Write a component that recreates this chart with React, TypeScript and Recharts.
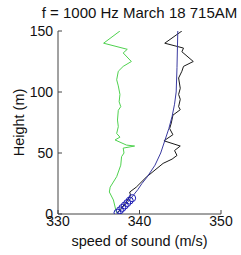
import { ScatterChart, Scatter, XAxis, YAxis } from 'recharts'

// heights (m) and speeds (m/s)
const greenHeights = [1, 3, 11.5, 18, 22, 30.6, 40, 47, 50, 54, 55.7, 56.5, 60.7, 63, 66, 71.6, 77, 85, 88, 92, 98, 105, 110, 117, 121, 125, 132, 135, 140, 150]
const greenSpeeds = [337.2, 337.1, 336.8, 336.3, 336.4, 337.2, 337.7, 337.8, 338.1, 338.0, 339.4, 338.4, 337.0, 337.6, 337.2, 337.4, 337.3, 337.4, 337.7, 337.5, 337.6, 337.4, 337.2, 337.4, 338.0, 339.0, 338.0, 338.5, 335.6, 337.6]

const blackHeights = [1, 5, 10, 15, 18, 22, 30, 41.5, 45, 48, 52, 55.7, 60, 65, 70, 74.6, 81, 85.5, 88, 94, 98, 103, 111.5, 117, 121, 125, 133, 136, 140, 150]
const blackSpeeds = [337.3, 337.8, 338.4, 338.9, 338.8, 339.6, 340.8, 342.9, 344.0, 344.6, 344.3, 345.0, 343.0, 344.1, 343.7, 343.9, 344.1, 345.0, 344.8, 345.0, 344.8, 345.0, 344.8, 345.2, 345.4, 346.6, 345.2, 345.4, 343.1, 345.2]

const fitHeights = [0, 5, 10, 15, 20, 25, 30, 40, 50, 60, 70, 80, 90, 100, 120, 150]
const fitSpeeds = [337.2, 337.9, 338.6, 339.2, 339.8, 340.3, 340.9, 341.9, 342.6, 343.1, 343.6, 344.0, 344.3, 344.5, 344.6, 344.7]

const markHeights = [1, 3, 5, 7, 9, 11, 13]
const markSpeeds = [337.3, 337.6, 337.9, 338.2, 338.5, 338.8, 339.1]

const xTicks = [330, 340, 350]
const yTicks = [0, 50, 100, 150]

const toPoints = (xs: number[], ys: number[]) => xs.map((x, i) => ({ x, y: ys[i] }))

const greenData = toPoints(greenSpeeds, greenHeights)
const blackData = toPoints(blackSpeeds, blackHeights)
const fitData = toPoints(fitSpeeds, fitHeights)
const markData = toPoints(markSpeeds, markHeights)

const font = '"Liberation Sans", Arial, sans-serif'
const axisColor = '#444'
const tickStyle = { fontSize: 14, fill: '#111', fontFamily: font }

const noDot = () => <g />
const ring = (p: any) => (
  <circle cx={p.cx} cy={p.cy} r={3.5} fill="none" stroke="#1c1cb4" strokeWidth={1} />
)

const yLabel = (props: any) => {
  const vb = props.viewBox
  const cx = vb.x + 19
  const cy = vb.y + vb.height / 2
  return (
    <text x={cx} y={cy} transform={`rotate(-90, ${cx}, ${cy})`} textAnchor="middle" dy="0.35em"
      fontSize={14.5} fill="#111" fontFamily={font}>Height (m)</text>
  )
}

export default function App() {
  return (
    <div style={{ position: 'absolute', left: 0, top: 0, width: 241, height: 255, background: '#fff' }}>
      <div style={{ position: 'absolute', left: 30, width: 219, top: 4, textAlign: 'center', whiteSpace: 'nowrap',
        fontFamily: font, fontSize: 15, color: '#111', lineHeight: '18px' }}>
        f = 1000 Hz March 18 715AM
      </div>
      <ScatterChart width={241} height={255} margin={{ top: 31, right: 20, bottom: 0, left: 0 }}>
        <XAxis type="number" dataKey="x" domain={[330, 350]} ticks={xTicks} interval={0}
          height={41} stroke={axisColor} tickSize={-4} tickMargin={6} tick={tickStyle} allowDataOverflow
          label={{ value: 'speed of sound (m/s)', position: 'insideBottom', offset: 9, fontSize: 14.5, fill: '#111', fontFamily: font }} />
        <XAxis xAxisId="top" orientation="top" type="number" domain={[330, 350]} ticks={xTicks} interval={0}
          height={0} stroke={axisColor} tickSize={-4} tickFormatter={() => ''} allowDataOverflow />
        <YAxis type="number" dataKey="y" domain={[0, 150]} ticks={yTicks} interval={0}
          width={58} stroke={axisColor} tickSize={-4} tickMargin={9} tick={tickStyle} allowDataOverflow
          label={{ content: yLabel }} />
        <YAxis yAxisId="right" orientation="right" type="number" domain={[0, 150]} ticks={yTicks} interval={0}
          width={0} stroke={axisColor} tickSize={-4} tickFormatter={() => ''} allowDataOverflow />
        <Scatter data={greenData} line={{ stroke: '#4fd24f', strokeWidth: 1 }} shape={noDot} isAnimationActive={false} />
        <Scatter data={blackData} line={{ stroke: '#1a1a1a', strokeWidth: 1 }} shape={noDot} isAnimationActive={false} />
        <Scatter data={fitData} line={{ stroke: '#3a3aa0', strokeWidth: 1 }} shape={noDot} isAnimationActive={false} />
        <Scatter data={markData} shape={ring} isAnimationActive={false} />
      </ScatterChart>
    </div>
  )
}
